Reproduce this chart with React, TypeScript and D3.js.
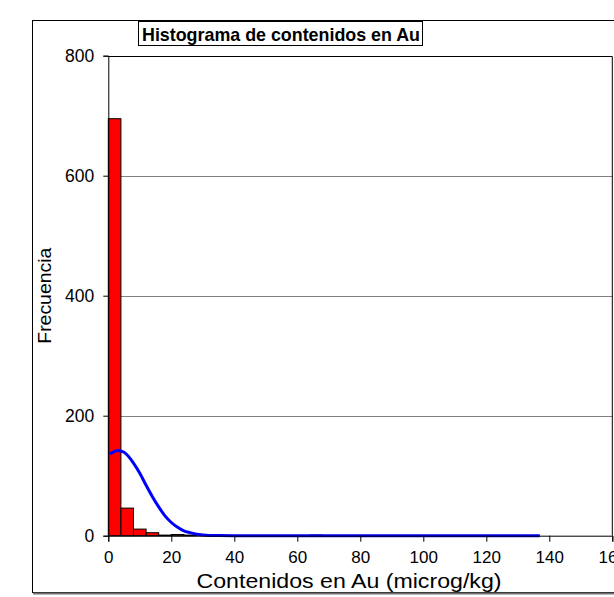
import { useEffect, useRef } from "react";
import * as d3 from "d3";

const TITLE = "Histograma de contenidos en Au";
const X_LABEL = "Contenidos en Au (microg/kg)";
const Y_LABEL = "Frecuencia";

// histogram bins (lower edge, width 4)
const BIN_START = [0, 4, 8, 12, 16, 20, 24, 64];
const BIN_COUNT = [695, 46, 11, 5, 1, 2, 1, 1];
const BIN_WIDTH = 4;

// fitted normal curve
const CURVE_X = [0.5, 3, 5, 8, 10, 12, 14, 16, 18, 20, 22, 24, 26, 28, 30, 35, 40, 60, 80, 100, 120, 137];
const CURVE_Y = [136, 142, 139, 121, 104, 84, 65, 48, 33, 22, 14, 8, 5, 2.5, 1.3, 0.2, 0, 0, 0, 0, 0, 0];

const X_TICKS = [0, 20, 40, 60, 80, 100, 120, 140, 160];
const X_MINOR = [10, 30, 50, 70, 90, 110, 130, 150];
const Y_TICKS = [0, 200, 400, 600, 800];
const Y_MINOR = [100, 300, 500, 700];
const GRID_Y = [200, 400, 600];

const FONT = "Arial, 'Liberation Sans', sans-serif";

export default function App() {
  const svgRef = useRef<SVGSVGElement>(null);

  useEffect(() => {
    const svg = d3.select(svgRef.current);
    svg.selectAll("*").remove();

    const x = d3.scaleLinear().domain([0, 160]).range([108.3, 612.3]);
    const y = d3.scaleLinear().domain([0, 800]).range([535.7, 55.7]);

    // outer frame
    svg.append("rect")
      .attr("x", 32.5).attr("y", 20.5).attr("width", 620).attr("height", 572)
      .attr("fill", "white").attr("stroke", "black").attr("stroke-width", 1);
    svg.append("line")
      .attr("x1", 33).attr("x2", 614).attr("y1", 593.5).attr("y2", 593.5)
      .attr("stroke", "#707070").attr("stroke-width", 2);

    // grid lines
    svg.append("g").selectAll("line").data(GRID_Y).join("line")
      .attr("x1", x(0)).attr("x2", x(160))
      .attr("y1", d => Math.round(y(d)) + 0.5).attr("y2", d => Math.round(y(d)) + 0.5)
      .attr("stroke", "#808080").attr("stroke-width", 1);

    // plot border top / right
    svg.append("path")
      .attr("d", `M${x(0)},${Math.round(y(800)) + 0.5}H${x(160)}V${y(0)}`)
      .attr("fill", "none").attr("stroke", "black").attr("stroke-width", 1);

    // bars
    svg.append("g").selectAll("rect").data(BIN_START).join("rect")
      .attr("x", d => x(d))
      .attr("y", (d, i) => y(BIN_COUNT[i]))
      .attr("width", d => x(d + BIN_WIDTH) - x(d))
      .attr("height", (d, i) => y(0) - y(BIN_COUNT[i]))
      .attr("fill", "#FF0000").attr("stroke", "black").attr("stroke-width", 1);

    // normal curve
    const pts: [number, number][] = CURVE_X.map((v, i) => [v, CURVE_Y[i]]);
    const line = d3.line<[number, number]>()
      .x(d => x(d[0])).y(d => y(d[1]))
      .curve(d3.curveMonotoneX);
    svg.append("path").datum(pts)
      .attr("d", line)
      .attr("fill", "none").attr("stroke", "#0000FF").attr("stroke-width", 3);

    // x axis
    const xAxis = svg.append("g").attr("transform", `translate(0,${y(0)})`);
    xAxis.call(d3.axisBottom(x).tickValues(X_MINOR).tickSize(3).tickFormat(() => ""));
    xAxis.call(d3.axisBottom(x).tickValues(X_TICKS).tickSize(6).tickPadding(9).tickFormat(d3.format("d")))
      .call(ax => {
        ax.selectAll(".domain").attr("stroke", "black");
        ax.selectAll("line").attr("stroke", "black");
        ax.selectAll("text").attr("fill", "black")
          .style("font-size", "17px").style("font-family", FONT);
      });

    // y axis
    const yAxis = svg.append("g").attr("transform", `translate(${x(0)},0)`);
    yAxis.call(d3.axisLeft(y).tickValues(Y_MINOR).tickSize(4).tickFormat(() => ""));
    yAxis.call(d3.axisLeft(y).tickValues(Y_TICKS).tickSize(5).tickPadding(9).tickFormat(d3.format("d")))
      .call(ax => {
        ax.selectAll(".domain").attr("stroke", "black");
        ax.selectAll("line").attr("stroke", "black");
        ax.selectAll("text").attr("fill", "black")
          .style("font-size", "17.5px").style("font-family", FONT);
      });

    // axis titles
    svg.append("text")
      .attr("x", 349).attr("y", 588)
      .attr("text-anchor", "middle")
      .attr("textLength", 305).attr("lengthAdjust", "spacingAndGlyphs")
      .style("font-size", "20.5px").style("font-family", FONT)
      .text(X_LABEL);
    svg.append("text")
      .attr("transform", `translate(51,${(y(0) + y(800)) / 2}) rotate(-90)`)
      .attr("text-anchor", "middle")
      .attr("textLength", 96).attr("lengthAdjust", "spacingAndGlyphs")
      .style("font-size", "18px").style("font-family", FONT)
      .text(Y_LABEL);

    // title box
    svg.append("rect")
      .attr("x", 138.5).attr("y", 21.5).attr("width", 284).attr("height", 24)
      .attr("fill", "white").attr("stroke", "black").attr("stroke-width", 1);
    svg.append("text")
      .attr("x", 281).attr("y", 40.5)
      .attr("text-anchor", "middle")
      .attr("textLength", 278).attr("lengthAdjust", "spacingAndGlyphs")
      .style("font-size", "19px").style("font-weight", "bold").style("font-family", FONT)
      .text(TITLE);
  }, []);

  return (
    <svg
      ref={svgRef}
      width={614}
      height={597}
      style={{ position: "absolute", left: 0, top: 0, display: "block", background: "white" }}
    />
  );
}
